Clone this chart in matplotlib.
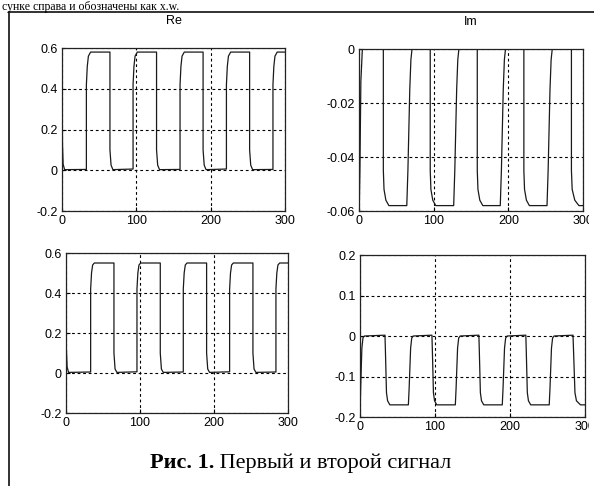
import matplotlib.pyplot as plt
from matplotlib.lines import Line2D
from matplotlib.transforms import Bbox

plt.rcParams['font.family'] = ['Liberation Sans', 'DejaVu Sans']
plt.rcParams['axes.unicode_minus'] = False

# Re, first signal (top left)
re1_x = [0, 0.6, 1.5, 3.5,
         32.8, 32.8, 34.0, 35.5, 38.5, 64.5, 64.5, 66.0, 68.5,
         95.6, 95.6, 96.8, 98.3, 101.3, 127.2, 127.2, 128.7, 131.2,
         158.8, 158.8, 160.0, 161.5, 164.5, 189.8, 189.8, 191.3, 193.8,
         221.2, 221.2, 222.4, 223.9, 226.9, 252.4, 252.4, 253.9, 256.4,
         283.8, 283.8, 285.0, 286.5, 289.5, 300]
re1_y = [0.58, 0.13, 0.03, 0.003,
         0.004, 0.42, 0.51, 0.56, 0.58, 0.58, 0.10, 0.025, 0.003,
         0.006, 0.42, 0.51, 0.56, 0.58, 0.58, 0.10, 0.025, 0.003,
         0.004, 0.42, 0.51, 0.56, 0.58, 0.58, 0.10, 0.025, 0.003,
         0.006, 0.42, 0.51, 0.56, 0.58, 0.58, 0.10, 0.025, 0.003,
         0.004, 0.42, 0.51, 0.56, 0.58, 0.58]

# Im, first signal (top right)
im1_x = [0, 0.4, 1.2, 2.5, 4.5,
         32.6, 32.6, 33.5, 36.0, 40.0, 64.0, 65.5, 68.0, 69.5, 71.0,
         95.4, 95.4, 96.3, 98.8, 102.8, 126.8, 128.3, 130.8, 132.3, 133.8,
         158.4, 158.4, 159.3, 161.8, 165.8, 189.2, 190.7, 193.2, 194.7, 196.2,
         220.8, 220.8, 221.7, 224.2, 228.2, 251.8, 253.3, 255.8, 257.3, 258.8,
         284.5, 284.5, 285.5, 289.0, 294.5, 300]
im1_y = [-0.026, -0.058, -0.045, -0.012, 0.0,
         0.0, -0.045, -0.052, -0.056, -0.058, -0.058, -0.045, -0.015, -0.004, 0.0,
         0.0, -0.045, -0.052, -0.056, -0.058, -0.058, -0.045, -0.015, -0.004, 0.0,
         0.0, -0.045, -0.052, -0.056, -0.058, -0.058, -0.045, -0.015, -0.004, 0.0,
         0.0, -0.045, -0.052, -0.056, -0.058, -0.058, -0.045, -0.015, -0.004, 0.0,
         0.0, -0.045, -0.052, -0.056, -0.058, -0.058]

# Re, second signal (bottom left)
re2_x = [0, 0.5, 1.5, 3.5,
         33.3, 33.3, 34.5, 36.0, 38.3, 64.8, 64.8, 66.3, 68.8,
         95.9, 95.9, 97.1, 98.6, 100.9, 127.4, 127.4, 128.9, 131.4,
         158.5, 158.5, 159.7, 161.2, 163.5, 190.0, 190.0, 191.5, 194.0,
         221.1, 221.1, 222.3, 223.8, 226.1, 252.6, 252.6, 254.1, 256.6,
         283.7, 283.7, 284.9, 286.4, 288.7, 300]
re2_y = [0.55, 0.12, 0.03, 0.003,
         0.005, 0.42, 0.50, 0.54, 0.55, 0.55, 0.10, 0.02, 0.003,
         0.006, 0.42, 0.50, 0.54, 0.55, 0.55, 0.10, 0.02, 0.003,
         0.005, 0.42, 0.50, 0.54, 0.55, 0.55, 0.10, 0.02, 0.003,
         0.006, 0.42, 0.50, 0.54, 0.55, 0.55, 0.10, 0.02, 0.003,
         0.005, 0.42, 0.50, 0.54, 0.55, 0.55]

# Im, second signal (bottom right)
im2_x = [0, 0.3, 1.0, 2.5, 4.0, 6.0,
         33.3, 33.8, 35.3, 36.8, 39.8, 64.5, 65.5, 67.5, 69.0, 71.0,
         95.9, 96.4, 97.9, 99.4, 102.4, 127.1, 128.1, 130.1, 131.6, 133.6,
         158.5, 159.0, 160.5, 162.0, 165.0, 189.7, 190.7, 192.7, 194.2, 196.2,
         221.1, 221.6, 223.1, 224.6, 227.6, 252.3, 253.3, 255.3, 256.8, 258.8,
         284.0, 284.6, 286.6, 288.6, 294.0, 300]
im2_y = [-0.08, -0.17, -0.12, -0.03, -0.004, 0.0,
         0.002, -0.03, -0.14, -0.16, -0.17, -0.17, -0.13, -0.03, -0.005, 0.0,
         0.002, -0.03, -0.14, -0.16, -0.17, -0.17, -0.13, -0.03, -0.005, 0.0,
         0.002, -0.03, -0.14, -0.16, -0.17, -0.17, -0.13, -0.03, -0.005, 0.0,
         0.002, -0.03, -0.14, -0.16, -0.17, -0.17, -0.13, -0.03, -0.005, 0.0,
         0.002, -0.03, -0.14, -0.16, -0.17, -0.17]

x_ticks = [0, 100, 200, 300]
re1_ticks = [-0.2, 0, 0.2, 0.4, 0.6]
im1_ticks = [-0.06, -0.04, -0.02, 0]
re2_ticks = [-0.2, 0, 0.2, 0.4, 0.6]
im2_ticks = [-0.2, -0.1, 0, 0.1, 0.2]
re1_labels = ['-0.2', '0', '0.2', '0.4', '0.6']
im1_labels = ['-0.06', '-0.04', '-0.02', '0']
re2_labels = ['-0.2', '0', '0.2', '0.4', '0.6']
im2_labels = ['-0.2', '-0.1', '0', '0.1', '0.2']

W, H = 594, 486
fig = plt.figure(figsize=(W / 100, H / 100), dpi=100)
fig.patch.set_facecolor('white')


def px_axes(l, t, r, b):
    return fig.add_axes([l / W, 1 - b / H, (r - l) / W, (b - t) / H])


panels = [
    (px_axes(62, 48, 285, 211), re1_x, re1_y, re1_ticks, re1_labels, 'Re'),
    (px_axes(359, 49, 583, 211), im1_x, im1_y, im1_ticks, im1_labels, 'Im'),
    (px_axes(66, 253, 288, 413), re2_x, re2_y, re2_ticks, re2_labels, None),
    (px_axes(360, 255, 585, 417), im2_x, im2_y, im2_ticks, im2_labels, None),
]

for ax, xs, ys, yt, yl, title in panels:
    ax.plot(xs, ys, color='#1a1a1a', lw=0.9)
    ax.set_xlim(0, 300)
    ax.set_ylim(yt[0], yt[-1])
    ax.set_xticks(x_ticks)
    ax.set_xticklabels([str(v) for v in x_ticks])
    ax.set_yticks(yt)
    ax.set_yticklabels(yl)
    ax.grid(True, color='black', linestyle=(0, (2.5, 2.5)), lw=0.8)
    ax.tick_params(direction='in', length=3, width=0.8, labelsize=9,
                   colors='black', pad=3)
    for s in ax.spines.values():
        s.set_linewidth(0.9)
        s.set_color('#222222')
    if title:
        ax.set_title(title, fontsize=9, pad=17)

# outer frame of the figure box
fig.add_artist(Line2D([9 / W, 9 / W], [0, 1 - 12 / H], transform=fig.transFigure,
                      color='#222222', lw=1.3))
fig.add_artist(Line2D([9 / W, 1], [1 - 12 / H, 1 - 12 / H], transform=fig.transFigure,
                      color='#222222', lw=1.3))

# line of body text above the figure box
fig.text(2 / W, 1 - 10 / H, 'сунке справа и обозначены как x.w.',
         family=['Liberation Serif'], fontsize=8.5, va='baseline', ha='left')

# caption
t1 = fig.text(150 / W, 1 - 468 / H, 'Рис. 1.', family=['Liberation Serif'],
              fontsize=16, fontweight='bold', va='baseline', ha='left')
t2 = fig.text(0, 0, ' Первый и второй сигнал', family=['Liberation Serif'],
              fontsize=16, va='baseline', ha='left')
fig.canvas.draw()
bb = t1.get_window_extent()
t2.set_position((bb.x1 / W, 1 - 468 / H))

# last x tick label on the right panels is cut by the page edge
clip = Bbox.from_extents(0, 0, 589, H)
for ax in (panels[1][0], panels[3][0]):
    for lab in ax.get_xticklabels():
        lab.set_clip_box(clip)

fig.savefig('out.png', dpi=100)
